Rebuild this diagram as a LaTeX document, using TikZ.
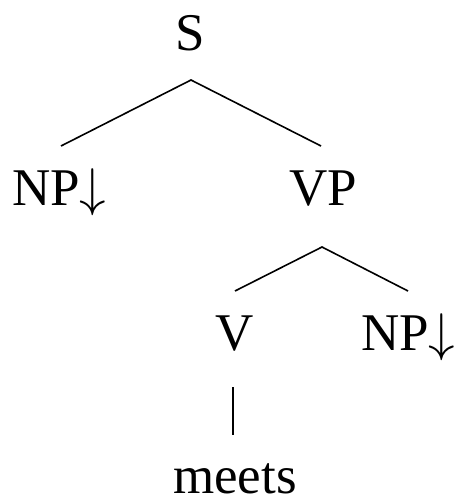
\RequirePackage{fix-cm}
\documentclass[tikz,border=0pt]{standalone}
\usepackage{fontspec}
\setmainfont{Liberation Serif}
\begin{document}
\begin{tikzpicture}[x=1pt,y=-1pt,
  lab/.style={inner sep=0pt,font=\fontsize{53}{60}\selectfont},
  edge/.style={line width=1.6pt}]
\useasboundingbox (0,0) rectangle (456,503);
\node[lab,anchor=base] (S) at (190,51) {S};
\node[lab,anchor=base west] (NP1) at (12,205) {NP$\downarrow$};
\node[lab,anchor=base] (VP) at (323,205) {VP};
\node[lab,anchor=base] (V) at (235,350) {V};
\node[lab,anchor=base west] (NP2) at (361,350) {NP$\downarrow$};
\node[lab,anchor=base] (meets) at (235,493) {meets};
\coordinate (S-b) at (191,80);
\coordinate (NP1-t) at (61,146);
\coordinate (VP-t) at (321,146);
\coordinate (VP-b) at (322,247);
\coordinate (V-t) at (235,291);
\coordinate (NP2-t) at (408,291);
\coordinate (V-b) at (233,387);
\coordinate (meets-t) at (233,435);
\draw[edge] (NP1-t) -- (S-b) -- (VP-t);
\draw[edge] (V-t) -- (VP-b) -- (NP2-t);
\draw[edge] (V-b) -- (meets-t);
\end{tikzpicture}
\end{document}
